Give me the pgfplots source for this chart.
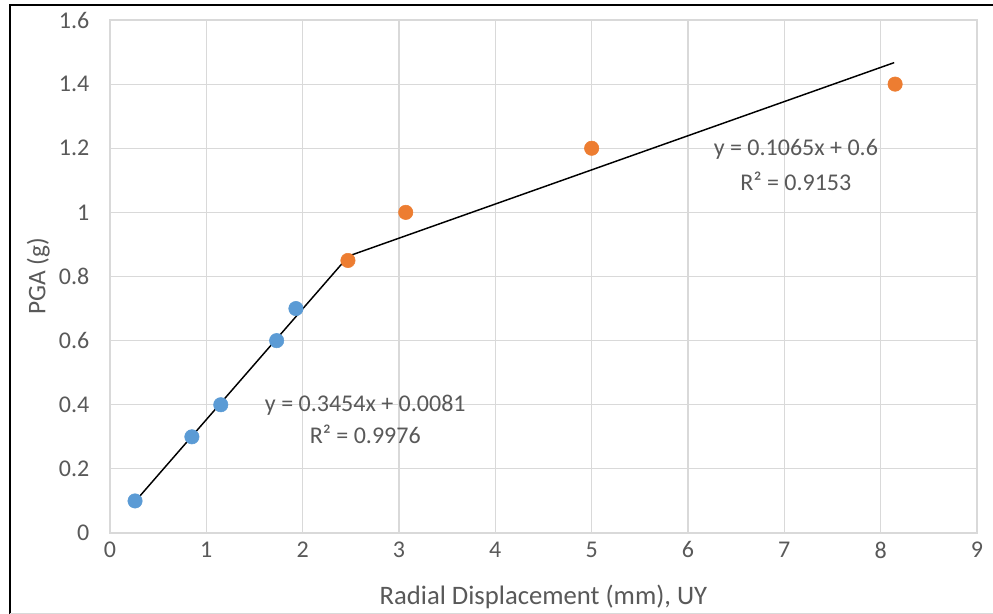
\documentclass[border=0pt]{standalone}
\usepackage{pgfplots}
\pgfplotsset{compat=1.18}
\usepackage{fontspec}
\setmainfont{Carlito}
\definecolor{txtgray}{HTML}{595959}
\definecolor{gridgray}{HTML}{D9D9D9}
\definecolor{xlblue}{HTML}{5B9BD5}
\definecolor{xlorange}{HTML}{ED7D31}
\begin{document}
\begin{tikzpicture}[x=1pt,y=1pt]
\useasboundingbox (-82.5,-60.75) rectangle (662.25,399.75);
\fill[white] (-82.5,-60.75) rectangle (662.25,399.75);
\draw[black, line width=1.6pt] (-75,-61) -- (-75,396) -- (663,396);
\draw[gridgray, line width=0.8pt] (-75,-60.2) -- (663,-60.2);
\begin{axis}[
  at={(0,0)}, anchor=origin,
  scale only axis,
  width=650.25pt, height=384.75pt,
  xmin=0, xmax=9, ymin=0, ymax=1.6,
  xtick={0,1,...,9},
  ytick={0,0.2,0.4,0.6,0.8,1,1.2,1.4,1.6},
  grid=major,
  grid style={gridgray, line width=0.8pt},
  axis line style={gridgray, line width=0.8pt},
  tick style={draw=none},
  ticklabel style={font=\fontsize{18}{20}\selectfont, text=txtgray},
  /pgf/number format/assume math mode=true,
  yticklabel style={/pgf/number format/fixed, /pgf/number format/precision=1, xshift=-12pt},
  xticklabel style={yshift=-3pt},
  xlabel={Radial Displacement (mm), UY},
  ylabel={PGA (g)},
  xlabel style={font=\fontsize{20}{22}\selectfont, text=txtgray, yshift=-13pt},
  ylabel style={font=\fontsize{19}{21}\selectfont, text=txtgray, yshift=0pt},
  clip=false,
]
\addplot[only marks, mark=*, mark size=5.4pt, color=xlblue, mark options={draw=xlblue, fill=xlblue}]
  coordinates {(0.26,0.1) (0.85,0.3) (1.15,0.4) (1.73,0.6) (1.93,0.7)};
\addplot[only marks, mark=*, mark size=5.4pt, color=xlorange, mark options={draw=xlorange, fill=xlorange}]
  coordinates {(2.47,0.85) (3.07,1.0) (5.0,1.2) (8.15,1.4)};
\addplot[black, line width=1.1pt, no marks] coordinates {(0.26,0.098) (2.44,0.851)};
\addplot[black, line width=1.1pt, no marks] coordinates {(2.46,0.862) (8.14,1.467)};
\node[font=\fontsize{18}{20}\selectfont, text=txtgray] at (axis cs:2.65,0.399) {y = 0.3454x + 0.0081};
\node[font=\fontsize{18}{20}\selectfont, text=txtgray] at (axis cs:2.65,0.309) {R² = 0.9976};
\node[font=\fontsize{18}{20}\selectfont, text=txtgray] at (axis cs:7.12,1.198) {y = 0.1065x + 0.6};
\node[font=\fontsize{18}{20}\selectfont, text=txtgray] at (axis cs:7.12,1.098) {R² = 0.9153};
\end{axis}
\end{tikzpicture}
\end{document}
